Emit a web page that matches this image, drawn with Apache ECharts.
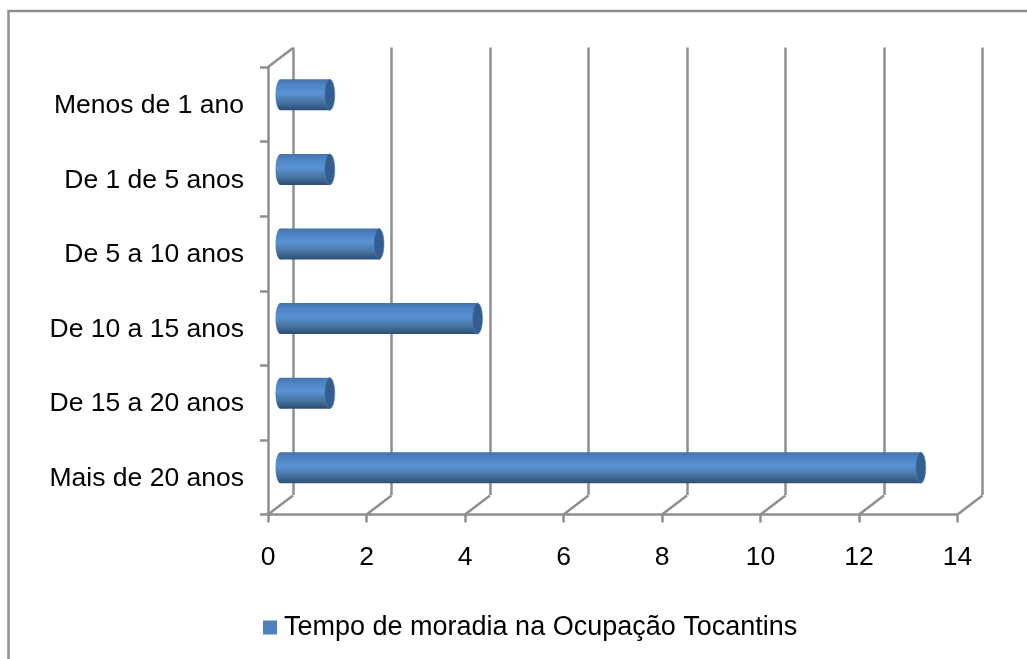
<!DOCTYPE html>
<html>
<head>
<meta charset="utf-8">
<script src="https://cdn.jsdelivr.net/npm/echarts@6/dist/echarts.min.js"></script>
<style>
  html, body { margin: 0; padding: 0; background: #fff; }
  #chart { width: 1027px; height: 659px; }
</style>
</head>
<body>
<div id="chart"></div>
<script>
const categories = ['Mais de 20 anos', 'De 15 a 20 anos', 'De 10 a 15 anos', 'De 5 a 10 anos', 'De 1 de 5 anos', 'Menos de 1 ano'];
const values = [13, 1, 4, 2, 1, 1];
const xTicks = [0, 2, 4, 6, 8, 10, 12, 14];
const seriesName = 'Tempo de moradia na Ocupação Tocantins';

// depth of the fake 3d wall, in px
const DX = 25, DY = -19;
const AXIS_COLOR = '#8f8f8f';
const LINE_W = 2.5;
const chart = echarts.init(document.getElementById('chart'));

function renderBar(params, api) {
  const v = api.value(0);
  const start = api.coord([0, api.value(1)]);
  const end = api.coord([v, api.value(1)]);
  const y = start[1] + DY / 2;
  const x0 = start[0] + DX / 2;
  const x1 = end[0] + DX / 2;
  const h = 31, rx = 5;
  const grad = new echarts.graphic.LinearGradient(0, 0, 0, 1, [
    { offset: 0, color: '#4272ab' },
    { offset: 0.15, color: '#4d83c2' },
    { offset: 0.45, color: '#5a92d6' },
    { offset: 0.75, color: '#47749f' },
    { offset: 1, color: '#2c4d76' },
  ]);
  return {
    type: 'group',
    children: [
      { type: 'ellipse', shape: { cx: x0, cy: y, rx: rx, ry: h / 2 }, style: { fill: grad } },
      { type: 'rect', shape: { x: x0, y: y - h / 2, width: x1 - x0, height: h }, style: { fill: grad } },
      { type: 'ellipse', shape: { cx: x1, cy: y, rx: rx, ry: h / 2 }, style: { fill: '#345e90', stroke: '#4f81bd', lineWidth: 0.6 } },
    ],
  };
}

// diagonal floor lines from the front axis back to the wall
function renderFloor(params, api) {
  const half = api.size([0, 1])[1] / 2;
  const atTop = api.value(1) === 1;
  const p = api.coord([api.value(0), atTop ? categories.length - 1 : 0]);
  const y = atTop ? p[1] - half : p[1] + half;
  return {
    type: 'line',
    shape: { x1: p[0], y1: y, x2: p[0] + DX, y2: y + DY },
    style: { stroke: AXIS_COLOR, lineWidth: LINE_W },
  };
}

chart.setOption({
  animation: false,
  textStyle: { fontFamily: '"Liberation Sans", Arial, sans-serif' },
  graphic: [
    {
      type: 'polyline',
      silent: true,
      shape: { points: [[8.5, 659], [8.5, 11], [1027, 11]] },
      style: { fill: 'none', stroke: AXIS_COLOR, lineWidth: LINE_W },
    },
  ],
  legend: {
    left: 263,
    top: 614,
    icon: 'rect',
    itemWidth: 14,
    itemHeight: 14,
    itemGap: 6,
    padding: 0,
    textStyle: { fontSize: 27, color: '#000', padding: [0, 0, 0, 2], fontFamily: '"Liberation Sans", Arial, sans-serif' },
    data: [seriesName],
  },
  grid: [
    { left: 268, top: 67, width: 689.5, height: 447.5 },
    { left: 293, top: 47.5, width: 689.5, height: 447.5 },
  ],
  xAxis: [
    {
      type: 'value', gridIndex: 0, min: 0, max: 14, interval: 2,
      axisLine: { show: true, lineStyle: { color: AXIS_COLOR, width: LINE_W } },
      axisTick: { show: true, length: 8, lineStyle: { color: AXIS_COLOR, width: LINE_W } },
      axisLabel: { fontSize: 26.5, color: '#000', margin: 30 },
      splitLine: { show: false },
    },
    {
      type: 'value', gridIndex: 1, min: 0, max: 14, interval: 2,
      axisLine: { show: false }, axisTick: { show: false }, axisLabel: { show: false },
      splitLine: { show: true, lineStyle: { color: AXIS_COLOR, width: LINE_W } },
    },
  ],
  yAxis: [
    {
      type: 'category', gridIndex: 0, data: categories,
      axisLine: { show: true, lineStyle: { color: AXIS_COLOR, width: LINE_W } },
      axisTick: { show: true, length: 8, alignWithLabel: false, lineStyle: { color: AXIS_COLOR, width: LINE_W } },
      // labels sit slightly under the band centre in the original
      axisLabel: { fontSize: 26.5, color: '#000', margin: 24, interval: 0, verticalAlign: 'top', lineHeight: 3 },
    },
    {
      type: 'category', gridIndex: 1, data: categories,
      axisLine: { show: false }, axisTick: { show: false }, axisLabel: { show: false },
    },
  ],
  series: [
    {
      type: 'custom', xAxisIndex: 0, yAxisIndex: 0, z: 1, silent: true,
      renderItem: renderFloor,
      data: xTicks.map((t) => [t, 0]).concat([[0, 1]]),
      encode: { x: 0 },
    },
    {
      name: seriesName,
      type: 'custom', xAxisIndex: 0, yAxisIndex: 0, z: 5,
      itemStyle: { color: '#4f81bd' },
      renderItem: renderBar,
      data: values.map((v, i) => [v, i]),
      encode: { x: 0, y: 1 },
    },
  ],
});
</script>
</body>
</html>
